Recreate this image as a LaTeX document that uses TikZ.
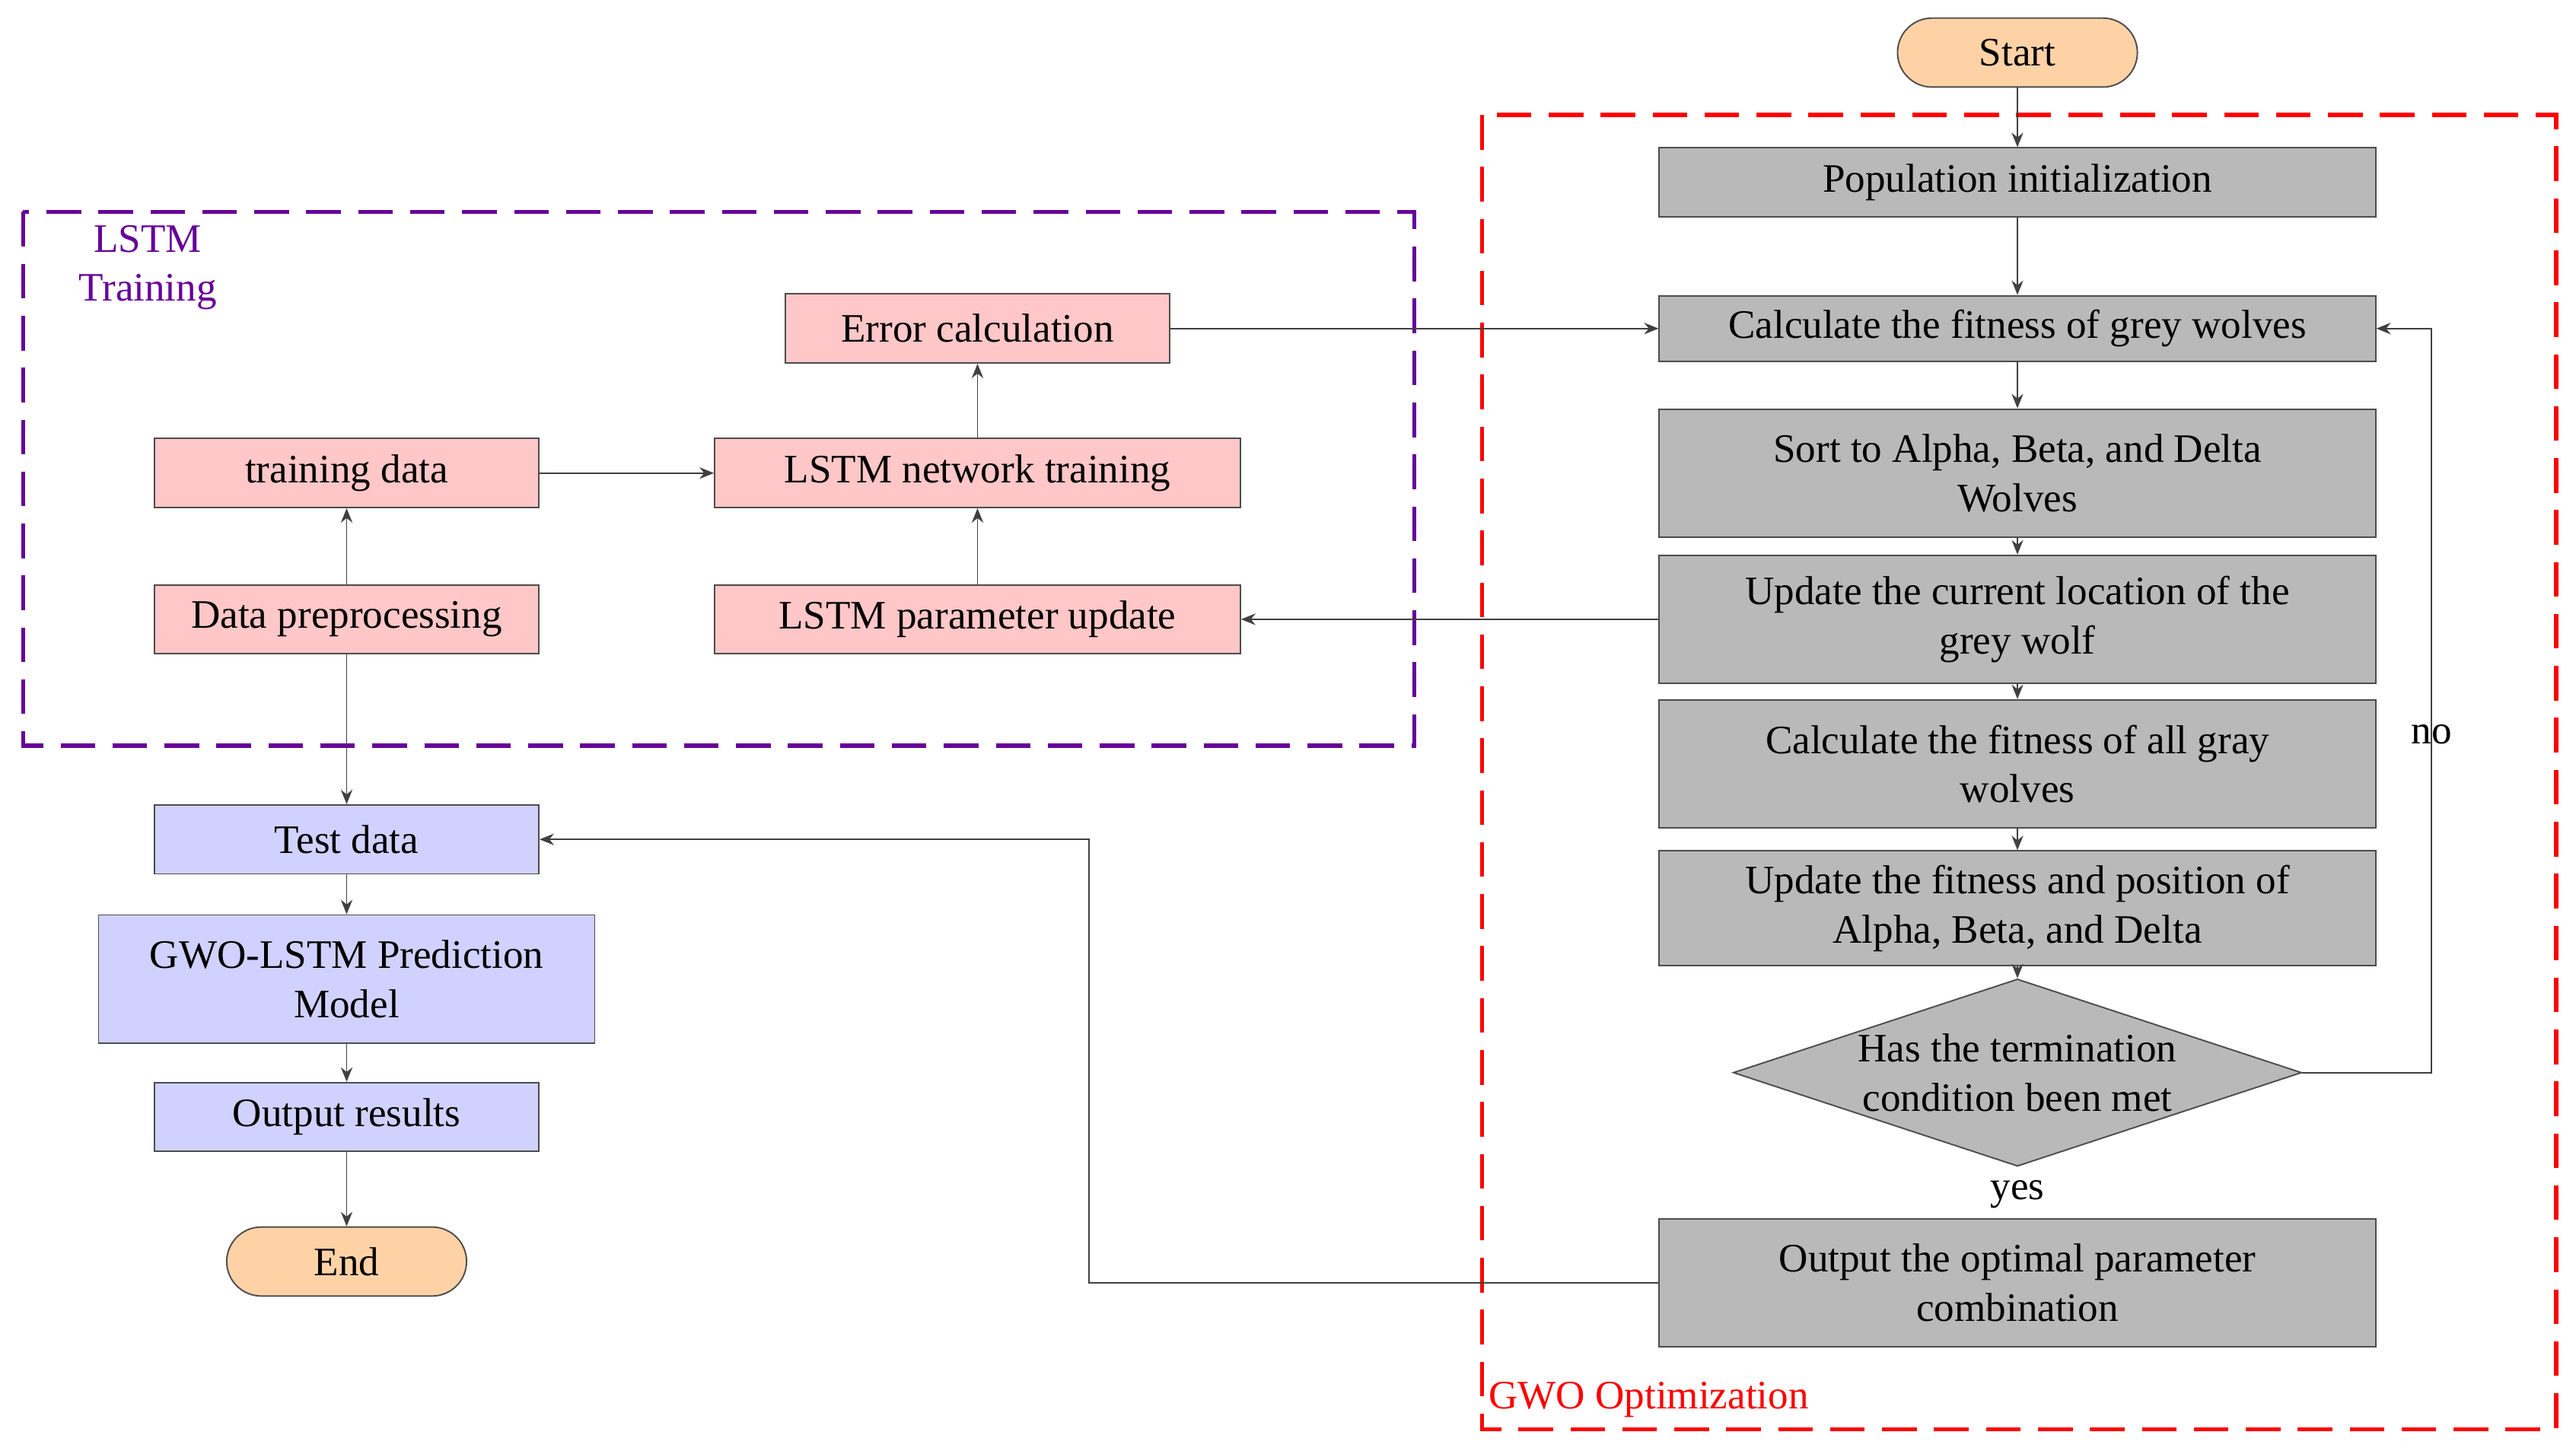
\documentclass[tikz,border=0pt]{standalone}
\usepackage{fontspec}
\setmainfont{Liberation Serif}
\usetikzlibrary{shapes.geometric,arrows.meta}
\begin{document}
\begin{tikzpicture}[x=0.02cm,y=-0.02cm,
  font=\fontsize{14}{17}\selectfont,
  box/.style={draw=black!70,line width=0.5pt,minimum height=#1*0.02cm,align=center,inner sep=1pt},
  gray/.style={box=#1,fill=gray!55,minimum width=436*0.02cm},
  pink/.style={box=42,fill=red!22,minimum width=#1*0.02cm},
  blue/.style={box=42,fill=blue!20!cyan!15,fill=blue!18,minimum width=#1*0.02cm},
  term/.style={draw=black!70,line width=0.5pt,fill=orange!35,rounded corners=21*0.02cm,minimum width=146*0.02cm,minimum height=42*0.02cm},
  ar/.style={-{Stealth[length=5pt,width=4pt]},line width=0.5pt,draw=black!75}]
\useasboundingbox (0,0) rectangle (1568,883);
\draw[red,line width=1.4pt,dash pattern=on 12pt off 6pt] (902,70) rectangle (1556,870);
\node[red,anchor=west] (gl) at (900,852) {GWO Optimization};
\draw[violet!80!blue,line width=1.4pt,dash pattern=on 12pt off 6pt] (14,129) rectangle (861,454);
\node[violet!80!blue,align=center] (ll) at (90,163) {LSTM\\Training};
\node[term] (start) at (1228,32) {Start};
\node[gray=42] (pop) at (1228,111) {Population initialization};
\node[gray=40] (calc) at (1228,200) {Calculate the fitness of grey wolves};
\node[gray=78] (sort) at (1228,288) {Sort to Alpha, Beta, and Delta\\Wolves};
\node[gray=78] (upd) at (1228,377) {Update the current location of the\\grey wolf};
\node[gray=78] (calcall) at (1228,465) {Calculate the fitness of all gray\\wolves};
\node[gray=70] (updfit) at (1228,553) {Update the fitness and position of\\Alpha, Beta, and Delta};
\node[diamond,draw=black!70,line width=0.5pt,fill=gray!55,minimum width=346*0.02cm,minimum height=114*0.02cm,aspect=3.03,inner sep=0pt,align=center] (dia) at (1228,653) {Has the termination\\condition been met};
\node (yes) at (1228,727) {yes};
\node[gray=78] (out) at (1228,781) {Output the optimal parameter\\combination};
\node (no) at (1480,447) {no};
\coordinate (c1) at (1480,653);
\coordinate (c2) at (1480,200);
\node[pink=234] (err) at (595,200) {Error calculation};
\node[pink=234] (train) at (211,288) {training data};
\node[pink=320] (net) at (595,288) {LSTM network training};
\node[pink=234] (pre) at (211,377) {Data preprocessing};
\node[pink=320] (par) at (595,377) {LSTM parameter update};
\node[blue=234] (test) at (211,511) {Test data};
\node[box=78,fill=blue!18,minimum width=302*0.02cm] (model) at (211,596) {GWO-LSTM Prediction\\Model};
\node[blue=234] (res) at (211,680) {Output results};
\node[term] (end) at (211,768) {End};
\coordinate (c3) at (663,781);
\coordinate (c4) at (663,511);
\draw[ar] (start)--(pop);
\draw[ar] (pop)--(calc);
\draw[ar] (calc)--(sort);
\draw[ar] (sort)--(upd);
\draw[ar] (upd)--(calcall);
\draw[ar] (calcall)--(updfit);
\draw[ar] (updfit)--(dia);
\draw[ar] (dia.east)--(c1)--(c2)--(calc.east);
\draw[ar] (err)--(calc);
\draw[ar] (upd)--(par);
\draw[ar] (par)--(net);
\draw[ar] (net)--(err);
\draw[ar] (train)--(net);
\draw[ar] (pre)--(train);
\draw[ar] (pre)--(test);
\draw[ar] (out.west)--(c3)--(c4)--(test.east);
\draw[ar] (test)--(model);
\draw[ar] (model)--(res);
\draw[ar] (res)--(end);
\end{tikzpicture}
\end{document}
